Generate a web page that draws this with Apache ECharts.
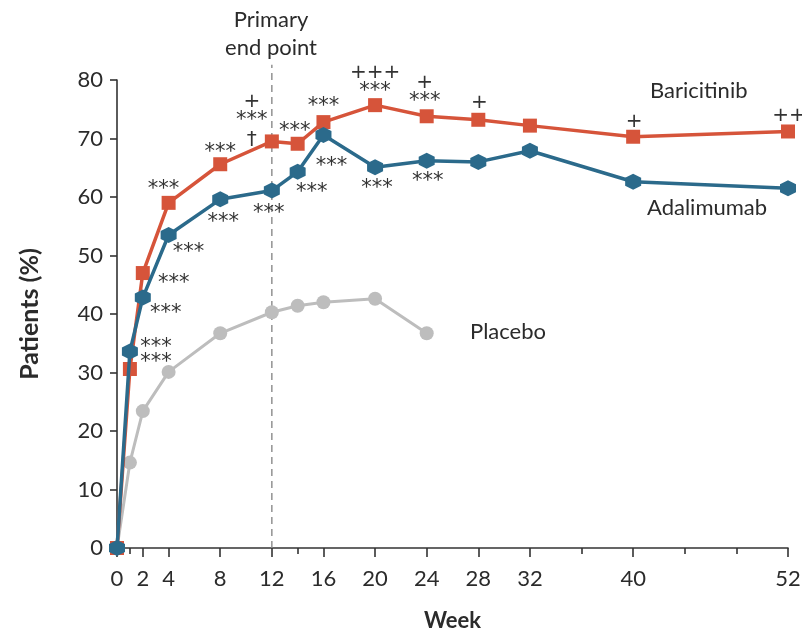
<!DOCTYPE html>
<html>
<head>
<meta charset="utf-8">
<script src="https://cdn.jsdelivr.net/npm/echarts@6/dist/echarts.min.js"></script>
<style>
  html, body { margin: 0; padding: 0; background: #ffffff; }
  #chart { width: 802px; height: 632px; }
</style>
</head>
<body>
<div id="chart"></div>
<script>
// Response rates (% of patients) by study week
const weeks = [0, 1, 2, 4, 8, 12, 14, 16, 20, 24, 28, 32, 40, 52];
const baricitinib = [0, 30.6, 47.0, 59.0, 65.6, 69.5, 69.1, 72.8, 75.7, 73.8, 73.2, 72.2, 70.3, 71.2];
const adalimumab = [0, 33.6, 42.8, 53.5, 59.6, 61.1, 64.3, 70.6, 65.1, 66.2, 66.0, 67.9, 62.6, 61.5];
const placeboWeeks = [0, 1, 2, 4, 8, 12, 14, 16, 20, 24];
const placebo = [0, 14.6, 23.4, 30.1, 36.7, 40.3, 41.4, 42.0, 42.6, 36.7];

// Axis ticks
const weekTickLabels = [0, 2, 4, 8, 12, 16, 20, 24, 28, 32, 40, 52];
const weekMinorTicks = [1, 14, 36, 44, 48];
const primaryEndPointWeek = 12;
const primaryEndPointSpan = [0, 82.6];

// Significance marks per week (*** vs placebo, + vs adalimumab, † noninferiority)
const baricitinibMarks = ['', '***', '***', '***', '***', '+\n***\n†', '***', '***', '+++\n***', '+\n***', '+', '', '+', '++'];
const adalimumabMarks = ['', '***', '***', '***', '***', '***', '***', '***', '***', '***', '', '', '', ''];

// Where each mark sits relative to its point, in pixels
const baricitinibMarkOffsets = [null, [26, -6], [31, 10], [-5, -13], [0, -12], [-20, -21], [-3, -12], [0, -16], [0, -25], [-2, -26], [1, -17], null, [1, -15], [1, -16]];
const adalimumabMarkOffsets = [null, [26, -4], [23, 16], [20, 18], [3, 23], [-3, 23], [14, 21], [8, 32], [2, 21], [1, 21], null, null, null, null];

const FONT = 'Lato, "Open Sans", sans-serif';
const MARK_FONT = '"DejaVu Sans", sans-serif';
const RED = '#d6543a';
const TEAL = '#2b6a8b';
const GREY = '#bdbdbd';
const INK = '#2b2b2b';

// Asterisk lines and plus/dagger lines get their own text styles
const markRich = {
  s: { fontFamily: MARK_FONT, fontSize: 21, lineHeight: 15, color: '#333' },
  p: { fontFamily: MARK_FONT, fontSize: 20, lineHeight: 23, color: '#333' }
};

function richMark(text) {
  return text.split('\n').map(line => (line.indexOf('*') >= 0 ? '{s|' : '{p|') + line + '}').join('\n');
}

function withMarks(xs, ys, marks, offsets) {
  return xs.map((x, i) => {
    const item = { value: [x, ys[i]] };
    if (marks && marks[i]) {
      item.label = {
        show: true,
        position: 'inside',
        offset: offsets[i],
        formatter: richMark(marks[i]),
        rich: markRich
      };
    }
    return item;
  });
}

const hexagon = 'path://M0,-1L0.866,-0.5L0.866,0.5L0,1L-0.866,0.5L-0.866,-0.5Z';

const chart = echarts.init(document.getElementById('chart'), null, { renderer: 'canvas' });

chart.setOption({
  animation: false,
  backgroundColor: '#ffffff',
  grid: { left: 117, right: 14, top: 80, bottom: 84, containLabel: false, outerBoundsMode: 'none' },
  xAxis: [
    {
      type: 'value',
      min: 0,
      max: 52,
      position: 'bottom',
      name: 'Week',
      nameLocation: 'middle',
      nameGap: 62,
      nameTextStyle: { fontFamily: FONT, fontSize: 22, fontWeight: 'bold', color: INK },
      axisLine: { show: true, lineStyle: { color: '#333', width: 1.6 } },
      axisTick: { show: true, length: 9, lineStyle: { color: '#333', width: 1.6 }, customValues: weekTickLabels },
      axisLabel: { show: true, margin: 20, fontFamily: FONT, fontSize: 22, color: INK, customValues: weekTickLabels },
      splitLine: { show: false }
    },
    {
      type: 'value',
      min: 0,
      max: 52,
      position: 'bottom',
      offset: 0,
      axisLine: { show: false },
      axisTick: { show: true, length: 6, lineStyle: { color: '#333', width: 1.6 }, customValues: weekMinorTicks },
      axisLabel: { show: false },
      splitLine: { show: false }
    }
  ],
  yAxis: {
    type: 'value',
    min: 0,
    max: 80,
    interval: 10,
    name: 'Patients (%)',
    nameLocation: 'middle',
    nameGap: 75,
    nameRotate: 90,
    nameTextStyle: { fontFamily: FONT, fontSize: 25, fontWeight: 'bold', color: INK },
    axisLine: { show: true, lineStyle: { color: '#333', width: 1.6 } },
    axisTick: { show: true, length: 7, lineStyle: { color: '#333', width: 1.6 } },
    axisLabel: { margin: 14, fontFamily: FONT, fontSize: 22, color: INK },
    splitLine: { show: false }
  },
  series: [
    {
      name: 'Primary end point',
      type: 'line',
      data: primaryEndPointSpan.map(v => [primaryEndPointWeek, v]),
      symbol: 'none',
      clip: false,
      silent: true,
      lineStyle: { color: '#8a8a8a', type: [7, 5], width: 1.4 },
      z: 1
    },
    {
      name: 'Placebo',
      type: 'line',
      data: withMarks(placeboWeeks, placebo, null, null),
      symbol: 'circle',
      symbolSize: 14,
      lineStyle: { color: GREY, width: 3 },
      itemStyle: { color: GREY },
      z: 2
    },
    {
      name: 'Baricitinib',
      type: 'line',
      data: withMarks(weeks, baricitinib, baricitinibMarks, baricitinibMarkOffsets),
      symbol: 'rect',
      symbolSize: 14,
      lineStyle: { color: RED, width: 3.5 },
      itemStyle: { color: RED },
      z: 3
    },
    {
      name: 'Adalimumab',
      type: 'line',
      data: withMarks(weeks, adalimumab, adalimumabMarks, adalimumabMarkOffsets),
      symbol: hexagon,
      symbolSize: 16,
      lineStyle: { color: TEAL, width: 3.5 },
      itemStyle: { color: TEAL },
      z: 4
    }
  ],
  graphic: [
    {
      type: 'text',
      x: 271, y: 6,
      style: { text: 'Primary\nend point', fontFamily: FONT, fontSize: 22, lineHeight: 28, fill: INK, align: 'center' }
    },
    {
      type: 'text', left: 650, top: 80,
      style: { text: 'Baricitinib', fontFamily: FONT, fontSize: 22, fill: INK }
    },
    {
      type: 'text', left: 647, top: 197,
      style: { text: 'Adalimumab', fontFamily: FONT, fontSize: 22, fill: INK }
    },
    {
      type: 'text', left: 470, top: 321,
      style: { text: 'Placebo', fontFamily: FONT, fontSize: 22, fill: INK }
    }
  ]
});
</script>
</body>
</html>
